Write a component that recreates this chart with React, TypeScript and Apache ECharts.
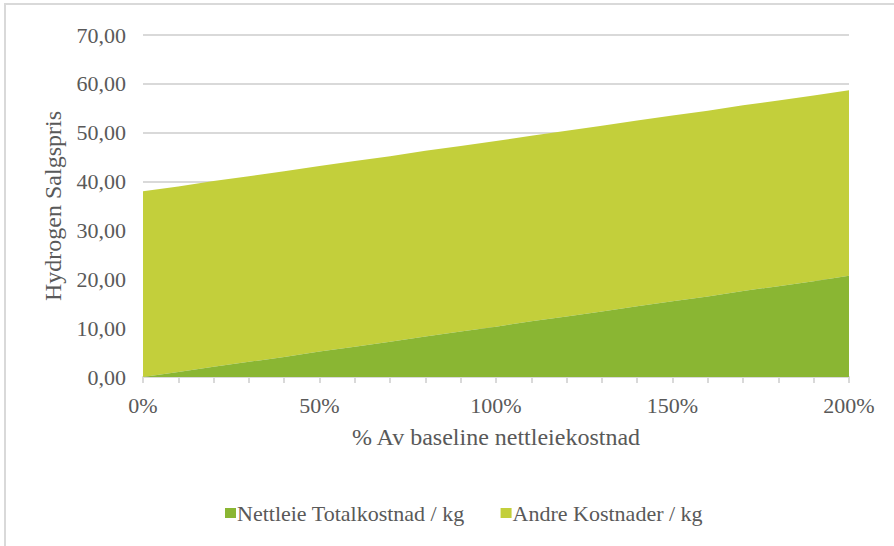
import React, { useEffect, useRef } from "react";
import * as echarts from "echarts";

// Share of baseline grid tariff (0% .. 200% in 10% steps)
const categories: string[] = [
  "0%", "10%", "20%", "30%", "40%", "50%", "60%", "70%", "80%", "90%", "100%",
  "110%", "120%", "130%", "140%", "150%", "160%", "170%", "180%", "190%", "200%",
];

// Grid tariff cost per kg
const nettleie: number[] = [
  0.0, 1.0, 2.1, 3.1, 4.1, 5.2, 6.2, 7.2, 8.3, 9.3, 10.3,
  11.4, 12.4, 13.4, 14.5, 15.5, 16.5, 17.6, 18.6, 19.6, 20.7,
];

// Other costs per kg
const andre: number[] = [
  38.0, 38.0, 38.0, 38.0, 38.0, 38.0, 38.0, 38.0, 38.0, 38.0, 38.0,
  38.0, 38.0, 38.0, 38.0, 38.0, 38.0, 38.0, 38.0, 38.0, 38.0,
];

const yTicks: number[] = [0, 10, 20, 30, 40, 50, 60, 70];

const FONT = '"Liberation Serif", "Times New Roman", serif';
const TEXT = "#595959";
const LINE = "#d9d9d9";
const DARK = "#8ab633";
const LIGHT = "#c3cf3b";

export default function App() {
  const ref = useRef<HTMLDivElement>(null);

  useEffect(() => {
    if (!ref.current) return;
    const chart = echarts.init(ref.current, undefined, { renderer: "svg" });
    chart.setOption({
      animation: false,
      backgroundColor: "#ffffff",
      textStyle: { fontFamily: FONT, color: TEXT },
      graphic: [
        {
          type: "rect",
          shape: { x: 5, y: 4, width: 1200, height: 1200 },
          style: { fill: "none", stroke: LINE, lineWidth: 2 },
          silent: true,
        },
      ],
      grid: { left: 143, right: 45, top: 35, bottom: 169, containLabel: false },
      legend: {
        left: 220,
        top: 497,
        icon: "rect",
        itemWidth: 11,
        itemHeight: 10,
        itemGap: 36,
        textStyle: { fontFamily: FONT, fontSize: 22, color: TEXT, padding: [0, 0, 0, -4] },
        data: ["Nettleie Totalkostnad / kg", "Andre Kostnader / kg"],
      },
      xAxis: {
        type: "category",
        data: categories,
        boundaryGap: false,
        name: "% Av baseline nettleiekostnad",
        nameLocation: "middle",
        nameGap: 48,
        nameTextStyle: { fontFamily: FONT, fontSize: 24, color: TEXT },
        axisLine: { lineStyle: { color: LINE, width: 2 } },
        axisTick: { show: true, interval: 0, length: 6, lineStyle: { color: LINE, width: 2 } },
        axisLabel: {
          interval: 4,
          margin: 17,
          fontFamily: FONT,
          fontSize: 22,
          color: TEXT,
        },
        splitLine: { show: false },
      },
      yAxis: {
        type: "value",
        min: yTicks[0],
        max: yTicks[yTicks.length - 1],
        interval: 10,
        name: "Hydrogen Salgspris",
        nameLocation: "middle",
        nameGap: 78,
        nameRotate: 90,
        nameTextStyle: { fontFamily: FONT, fontSize: 24, color: TEXT },
        axisLine: { show: false },
        axisTick: { show: false },
        axisLabel: {
          margin: 17,
          fontFamily: FONT,
          fontSize: 22,
          color: TEXT,
          formatter: (v: number) => v.toFixed(2).replace(".", ","),
        },
        splitLine: { lineStyle: { color: LINE, width: 2 } },
      },
      series: [
        {
          name: "Nettleie Totalkostnad / kg",
          type: "line",
          stack: "total",
          data: nettleie,
          symbol: "none",
          lineStyle: { width: 0 },
          itemStyle: { color: DARK },
          areaStyle: { color: DARK, opacity: 1 },
          z: 3,
        },
        {
          name: "Andre Kostnader / kg",
          type: "line",
          stack: "total",
          data: andre,
          symbol: "none",
          lineStyle: { width: 0 },
          itemStyle: { color: LIGHT },
          areaStyle: { color: LIGHT, opacity: 1 },
          z: 2,
        },
      ],
    });
    return () => chart.dispose();
  }, []);

  return (
    <div
      ref={ref}
      style={{ position: "fixed", left: 0, top: 0, width: 894, height: 546 }}
    />
  );
}
